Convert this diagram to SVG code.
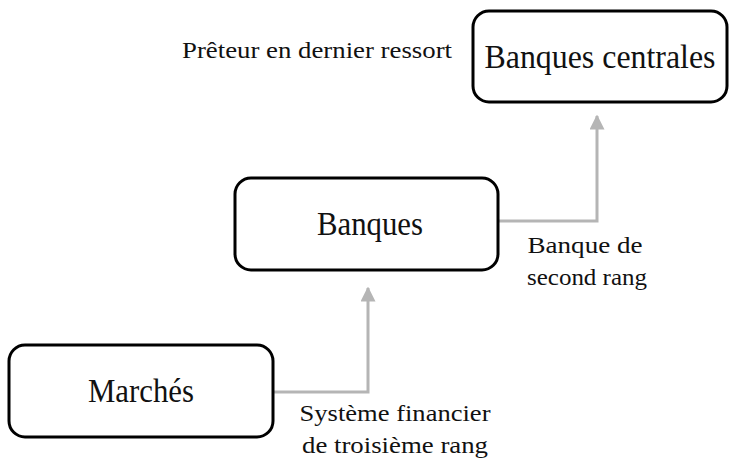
<svg xmlns="http://www.w3.org/2000/svg" width="729" height="463" viewBox="0 0 729 463">
<style>
.box{fill:#fff;stroke:#000;stroke-width:3}
.big{font-family:"Liberation Serif","Times New Roman",serif;font-size:33px;fill:#111;text-anchor:middle}
.sm{font-family:"Liberation Serif","Times New Roman",serif;font-size:24px;fill:#111;text-anchor:middle}
.con{fill:none;stroke:#b5b5b5;stroke-width:3}
</style>
<defs>
<marker id="ah" viewBox="0 0 10 10" refX="9" refY="5" markerWidth="5" markerHeight="5" orient="auto" markerUnits="strokeWidth">
<path d="M0,0 L10,5 L0,10 z" fill="#b5b5b5"/>
</marker>
</defs>
<g id="connectors">
<path class="con" d="M273,392 H368 V288" marker-end="url(#ah)"/>
<path class="con" d="M498,221 H597 V116" marker-end="url(#ah)"/>
</g>
<g id="banques-centrales">
<rect class="box" x="473" y="11" width="254" height="91" rx="16"/>
<text class="big" x="600" y="68" textLength="231" lengthAdjust="spacingAndGlyphs">Banques centrales</text>
</g>
<g id="banques">
<rect class="box" x="235" y="178" width="263" height="92" rx="16"/>
<text class="big" x="370" y="235" textLength="106" lengthAdjust="spacingAndGlyphs">Banques</text>
</g>
<g id="marches">
<rect class="box" x="9" y="345" width="264" height="92" rx="16"/>
<text class="big" x="141" y="402" textLength="106" lengthAdjust="spacingAndGlyphs">Marchés</text>
</g>
<g id="labels">
<text class="sm" x="317" y="58" textLength="270" lengthAdjust="spacingAndGlyphs">Prêteur en dernier ressort</text>
<text class="sm" x="585" y="253" textLength="115" lengthAdjust="spacingAndGlyphs">Banque de</text>
<text class="sm" x="587" y="285" textLength="120" lengthAdjust="spacingAndGlyphs">second rang</text>
<text class="sm" x="395" y="421" textLength="191" lengthAdjust="spacingAndGlyphs">Système financier</text>
<text class="sm" x="395" y="453" textLength="186" lengthAdjust="spacingAndGlyphs">de troisième rang</text>
</g>
</svg>
